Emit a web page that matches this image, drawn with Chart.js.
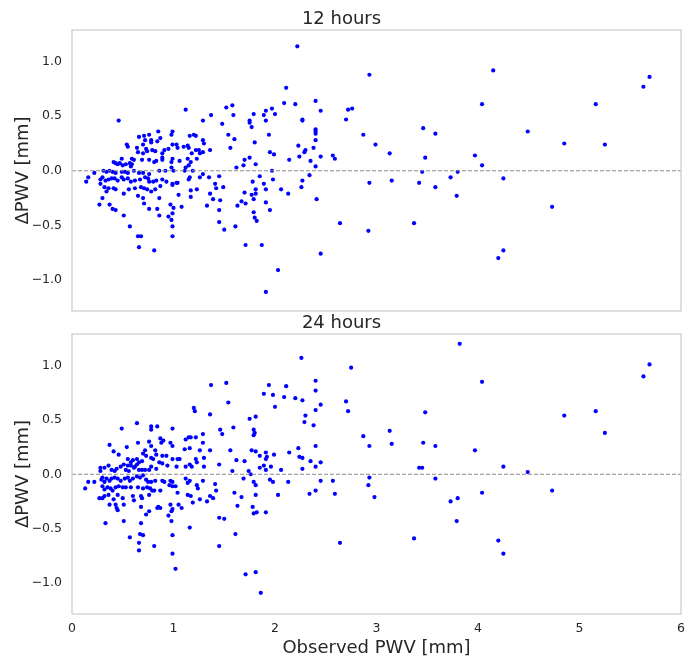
<!DOCTYPE html>
<html>
<head>
<meta charset="utf-8">
<script src="https://cdn.jsdelivr.net/npm/chart.js@4.4.1/dist/chart.umd.min.js"></script>
<style>
  html, body { margin: 0; padding: 0; background: #fff; }
  #wrap { position: relative; width: 685px; height: 657px; }
  #c12 { position: absolute; left: 0; top: 0; }
  #c24 { position: absolute; left: 0; top: 311px; }
</style>
</head>
<body>
<div id="wrap">
  <canvas id="c24" width="685" height="346" style="width:685px;height:346px"></canvas>
  <canvas id="c12" width="685" height="320" style="width:685px;height:320px"></canvas>
</div>
<script>
// panel titles and axis ticks
const panelTitles = ['12 hours', '24 hours'];
const xTicks = [0, 1, 2, 3, 4, 5, 6];
const yTicks = [-1.0, -0.5, 0.0, 0.5, 1.0];
const zeroLine = [[0, 0], [6, 0]];

// [observed PWV, ΔPWV]
const pts12 = [
  [.46,.46],[.54,.24],[.55,.22],[.66,.31],[.71,.32],[.76,.33],[.85,.36],[.98,.33],[.99,.36],[.72,.28],
  [.78,.28],[.78,.26],[.87,.30],[.84,.27],[.64,.21],[.70,.24],[.73,.20],[.65,.17],[.70,.16],[.74,.18],
  [.79,.19],[.82,.18],[.91,.19],[.95,.20],[.89,.16],[.99,.24],[.49,.11],[.59,.11],[.61,.10],[.69,.10],
  [.76,.10],[.81,.08],[.83,.09],[.89,.10],[.89,.12],[.99,.11],[.41,.08],[.43,.07],[.45,.06],[.47,.07],
  [.50,.05],[.53,.06],[.57,.07],[.59,.06],[.58,.04],[.98,.08],[.98,.03],[.22,-.02],[.31,0],[.34,-.01],
  [.37,0],[.40,-.01],[.43,-.02],[.49,-.01],[.52,-.01],[.55,-.02],[.61,0],[.66,-.02],[.70,-.02],[.76,-.03],
  [.86,0],[.92,0],[1.0,0],[.14,-.10],[.16,-.06],[.28,-.08],[.30,-.06],[.33,-.09],[.36,-.08],[.39,-.07],
  [.42,-.07],[.45,-.09],[.49,-.06],[.51,-.08],[.55,-.07],[.58,-.10],[.62,-.09],[.67,-.08],[.72,-.06],[.75,-.07],
  [.76,-.10],[.80,-.10],[.83,-.09],[.89,-.08],[.93,-.10],[.99,-.12],[.28,-.12],[.32,-.15],[.34,-.19],[.36,-.16],
  [.41,-.16],[.43,-.17],[.51,-.21],[.56,-.17],[.62,-.16],[.68,-.15],[.71,-.16],[.74,-.17],[.78,-.19],[.82,-.17],
  [.87,-.14],[.99,-.13],[.30,-.25],[.27,-.31],[.37,-.31],[.40,-.35],[.43,-.36],[.65,-.23],[.70,-.25],[.71,-.30],
  [.76,-.35],[.84,-.35],[.86,-.25],[.97,-.31],[1.0,-.34],[.51,-.41],[.86,-.41],[.95,-.42],[.99,-.39],[.98,-.45],
  [.57,-.51],[.99,-.51],[.65,-.60],[.68,-.60],[.99,-.60],[.66,-.70],[.81,-.73],
  [1.12,.56],[1.52,.58],[1.58,.60],[1.59,.51],[1.37,.51],[1.29,.46],[1.48,.43],[1.75,.46],[1.75,.44],[1.77,.40],
  [1.79,.52],[1.89,.51],[1.91,.55],[1.97,.57],[1.91,.46],[1.54,.33],[1.60,.29],[1.80,.26],[1.94,.33],[1.56,.21],
  [1.16,.32],[1.20,.33],[1.22,.32],[1.29,.28],[1.30,.25],[1.03,.24],[1.04,.21],[1.10,.22],[1.14,.23],[1.15,.21],
  [1.22,.19],[1.25,.19],[1.26,.16],[1.29,.17],[1.36,.19],[1.18,.16],[1.23,.11],[1.06,.09],[1.17,.08],[1.14,.11],
  [1.12,.03],[1.11,0],[1.15,.05],[1.19,0],[1.70,.10],[1.75,.12],[1.81,.06],[1.69,.05],[1.62,.03],[1.95,.17],
  [1.97,0],[1.03,-.11],[1.04,-.11],[1.16,-.06],[1.15,-.08],[1.26,-.06],[1.29,-.03],[1.35,-.06],[1.45,-.05],[1.41,-.12],
  [1.42,-.16],[1.49,-.15],[1.05,-.22],[1.17,-.18],[1.17,-.24],[1.23,-.17],[1.36,-.21],[1.39,-.26],[1.46,-.27],[1.33,-.32],
  [1.08,-.33],[1.78,-.10],[1.85,-.05],[1.89,-.12],[1.91,-.17],[1.98,-.08],[1.70,-.20],[1.77,-.22],[1.81,-.21],[1.81,-.17],
  [1.79,-.26],[1.67,-.28],[1.71,-.30],[1.63,-.32],[1.91,-.29],[1.95,-.36],[1.79,-.38],[1.80,-.43],[1.82,-.46],[1.45,-.36],
  [1.45,-.47],[1.50,-.54],[1.61,-.51],[1.71,-.68],[1.87,-.68],[1.91,-1.11],
  [2.22,1.14],[2.93,.88],[2.11,.76],[2.09,.62],[2.20,.61],[2.40,.64],[2.45,.55],[2.00,.52],[2.27,.47],[2.27,.46],
  [2.72,.56],[2.76,.57],[2.70,.47],[2.40,.38],[2.40,.36],[2.40,.34],[2.40,.28],[2.87,.33],[2.99,.24],[3.13,.16],
  [2.23,.23],[2.38,.21],[2.30,.19],[2.29,.17],[1.99,.15],[2.14,.10],[2.24,.13],[2.35,.09],[2.45,.13],[2.57,.14],
  [2.59,.11],[2.40,.04],[2.34,-.04],[2.27,-.09],[2.26,-.15],[2.06,-.17],[2.13,-.21],[2.93,-.11],[3.15,-.09],[2.41,-.26],
  [2.64,-.48],[2.92,-.55],[3.37,-.48],[2.45,-.76],[2.03,-.91],
  [4.15,.92],[4.04,.61],[3.46,.39],[3.58,.34],[3.48,.12],[3.45,-.01],[3.42,-.11],[3.58,-.15],[3.73,-.06],[3.80,-.01],
  [3.79,-.23],[3.97,.14],[4.04,.05],[4.25,-.07],[4.25,-.73],[4.20,-.80],[4.49,.36],[4.73,-.33],[4.85,.25],[5.16,.61],
  [5.25,.24],[5.63,.77],[5.69,.86]
];

// [observed PWV, ΔPWV]
const pts24 = [
  [.64,.47],[.49,.42],[.78,.44],[.78,.41],[.84,.44],[.99,.42],[.37,.27],[.54,.25],[.41,.21],[.46,.18],
  [.65,.29],[.76,.30],[.78,.26],[.87,.33],[.90,.31],[.88,.29],[.97,.29],[.99,.26],[.72,.22],[.70,.19],
  [.73,.17],[.82,.22],[.83,.18],[.89,.17],[.93,.17],[.78,.15],[.80,.14],[.55,.14],[.58,.11],[.60,.13],
  [.64,.14],[.66,.11],[.69,.12],[.64,.09],[.62,.07],[.58,.08],[.55,.08],[.51,.09],[.48,.07],[.44,.05],
  [.39,.04],[.36,.08],[.28,.06],[.28,.03],[.32,.06],[.42,.03],[.53,.04],[.56,.03],[.61,.06],[.66,.04],
  [.69,.04],[.72,.04],[.76,.04],[.78,.07],[.83,.05],[.86,.11],[.89,.10],[.94,.08],[.99,.14],[.13,-.13],
  [.16,-.07],[.22,-.07],[.29,-.05],[.30,-.03],[.32,-.07],[.34,-.04],[.37,-.06],[.39,-.04],[.42,-.03],[.45,-.04],
  [.48,-.06],[.52,-.04],[.55,-.03],[.57,-.06],[.60,-.04],[.64,-.02],[.67,-.03],[.70,-.01],[.73,-.05],[.75,-.07],
  [.78,-.07],[.82,-.06],[.89,-.06],[.91,-.07],[.97,-.06],[.99,-.07],[1.02,-.11],[.30,-.11],[.32,-.14],[.35,-.12],
  [.38,-.13],[.40,-.15],[.43,-.12],[.46,-.11],[.50,-.12],[.53,-.12],[.58,-.12],[.65,-.12],[.70,-.13],[.74,-.12],
  [.77,-.13],[.79,-.15],[.81,-.15],[.87,-.15],[.96,-.10],[.99,-.11],[.27,-.22],[.30,-.22],[.32,-.20],[.36,-.19],
  [.41,-.23],[.45,-.19],[.50,-.22],[.60,-.20],[.61,-.24],[.68,-.20],[.69,-.22],[.76,-.19],[.37,-.28],[.43,-.28],
  [.44,-.31],[.45,-.33],[.51,-.28],[.68,-.30],[.73,-.37],[.76,-.34],[.84,-.31],[.85,-.30],[.87,-.31],[.97,-.28],
  [.99,-.32],[.98,-.34],[.95,-.38],[.33,-.45],[.51,-.43],[.68,-.45],[.98,-.43],[.57,-.58],[.67,-.55],[.70,-.56],
  [.66,-.63],[.81,-.66],[.99,-.56],[.66,-.70],[.99,-.73],[1.02,-.87],
  [1.37,.82],[1.52,.84],[1.54,.66],[1.94,.82],[1.89,.74],[1.98,.73],[1.20,.61],[1.21,.58],[1.36,.55],[1.75,.51],
  [1.81,.53],[1.59,.43],[1.46,.41],[1.48,.37],[1.29,.37],[1.79,.41],[1.80,.38],[1.79,.36],[1.12,.32],[1.15,.34],
  [1.17,.34],[1.22,.34],[1.29,.29],[1.11,.23],[1.16,.24],[1.26,.22],[1.36,.22],[1.56,.22],[1.77,.22],[1.81,.21],
  [1.85,.17],[1.91,.20],[1.92,.16],[1.91,.14],[1.04,.14],[1.06,.14],[1.22,.14],[1.23,.11],[1.30,.15],[1.16,.09],
  [1.18,.07],[1.03,.07],[1.12,.07],[1.30,.07],[1.45,.09],[1.62,.13],[1.70,.12],[1.58,.03],[1.74,.03],[1.76,0],
  [1.85,.06],[1.89,.08],[1.91,.04],[1.96,.07],[1.12,-.04],[1.16,-.06],[1.14,-.08],[1.29,-.06],[1.23,-.10],[1.24,-.13],
  [1.41,-.09],[1.42,-.15],[1.04,-.17],[1.14,-.19],[1.17,-.20],[1.19,-.26],[1.26,-.23],[1.36,-.20],[1.39,-.22],[1.33,-.25],
  [1.60,-.17],[1.67,-.21],[1.63,-.29],[1.81,-.10],[1.79,-.07],[1.81,-.19],[1.78,-.30],[1.79,-.36],[1.82,-.35],[1.91,-.35],
  [1.95,-.05],[1.98,-.07],[1.69,-.04],[1.08,-.31],[1.05,-.28],[1.45,-.40],[1.50,-.41],[1.16,-.49],[1.61,-.55],[1.45,-.66],
  [1.71,-.92],[1.81,-.90],[1.86,-1.09],
  [2.26,1.07],[2.75,.98],[2.11,.81],[2.09,.71],[2.20,.70],[2.27,.68],[2.40,.86],[2.40,.77],[2.00,.62],[2.45,.64],
  [2.40,.59],[2.30,.54],[2.29,.48],[2.38,.45],[2.70,.67],[2.72,.58],[2.87,.35],[2.93,.26],[3.13,.40],[3.15,.28],
  [2.40,.26],[1.99,.18],[2.14,.20],[2.23,.24],[2.24,.16],[2.27,.15],[2.35,.12],[2.45,.11],[2.40,.07],[2.06,.04],
  [2.27,.05],[2.13,-.07],[2.45,-.06],[2.57,-.06],[2.34,-.18],[2.40,-.15],[2.59,-.18],[2.03,-.19],[2.93,-.03],[2.92,-.10],
  [2.98,-.21],[2.64,-.63],[3.37,-.59],
  [3.82,1.20],[4.04,.85],[3.48,.57],[3.46,.29],[3.58,.26],[3.97,.22],[3.42,.06],[3.45,.06],[3.58,-.04],[4.25,.07],
  [4.49,.02],[4.04,-.17],[3.73,-.25],[3.80,-.22],[3.79,-.43],[4.20,-.61],[4.25,-.73],[4.73,-.15],[4.85,.54],[5.16,.58],
  [5.25,.38],[5.63,.90],[5.69,1.01]
];

Chart.defaults.font.family = "'DejaVu Sans', sans-serif";
Chart.defaults.color = '#262626';

const framePlugin = {
  id: 'frame',
  afterDatasetsDraw(chart) {
    const a = chart.chartArea;
    const ctx = chart.ctx;
    ctx.save();
    ctx.strokeStyle = '#cccccc';
    ctx.lineWidth = 1.25;
    ctx.strokeRect(a.left, a.top, a.right - a.left, a.bottom - a.top);
    ctx.restore();
  }
};

function makePanel(id, title, pts, showX, padBottom, titlePad) {
  return new Chart(document.getElementById(id), {
    type: 'scatter',
    data: {
      datasets: [
        {
          type: 'line',
          data: zeroLine.map(p => ({ x: p[0], y: p[1] })),
          borderColor: '#8a8a8a',
          borderWidth: 1,
          borderDash: [4, 2],
          pointRadius: 0,
          fill: false
        },
        {
          data: pts.map(p => ({ x: p[0], y: p[1] })),
          backgroundColor: '#0000ff',
          borderWidth: 0,
          pointRadius: 2.1
        }
      ]
    },
    options: {
      responsive: false,
      animation: false,
      devicePixelRatio: 1,
      layout: { padding: { left: 0, right: 2, top: 0, bottom: padBottom } },
      plugins: {
        legend: { display: false },
        tooltip: { enabled: false },
        title: {
          display: true,
          text: title,
          color: '#262626',
          font: { size: 18, weight: 'normal', lineHeight: 1.0 },
          padding: titlePad
        }
      },
      scales: {
        x: {
          type: 'linear',
          min: xTicks[0],
          max: xTicks[xTicks.length - 1],
          display: showX,
          grid: { display: false, drawTicks: false },
          border: { display: false },
          afterBuildTicks: s => { s.ticks = xTicks.map(v => ({ value: v })); },
          ticks: { padding: 7, color: '#262626', font: { size: 12.5 } },
          title: {
            display: true,
            text: 'Observed PWV [mm]',
            color: '#262626',
            font: { size: 18, lineHeight: 1.0 },
            padding: { top: 2, bottom: 0 }
          },
          afterFit: s => {
            s.height = showX ? 43 : 0;
            s.paddingLeft = 0;
            s.paddingRight = 0;
          }
        },
        y: {
          type: 'linear',
          min: -1.285,
          max: 1.29,
          grid: { display: false, drawTicks: false },
          border: { display: false },
          afterBuildTicks: s => { s.ticks = yTicks.map(v => ({ value: v })); },
          ticks: {
            padding: 10,
            color: '#262626',
            font: { size: 12.5 },
            callback: v => v.toFixed(1).replace('-', '\u2212')
          },
          title: {
            display: true,
            text: 'ΔPWV [mm]',
            color: '#262626',
            font: { size: 18, lineHeight: 1.0 },
            padding: { top: 14, bottom: 0 }
          },
          afterFit: s => {
            s.width = 72;
            s.paddingTop = 0;
            s.paddingBottom = 0;
          }
        }
      }
    },
    plugins: [framePlugin]
  });
}

makePanel('c12', panelTitles[0], pts12, false, 9, { top: 10, bottom: 2 });
makePanel('c24', panelTitles[1], pts24, true, 0, { top: 3, bottom: 2 });
</script>
</body>
</html>
